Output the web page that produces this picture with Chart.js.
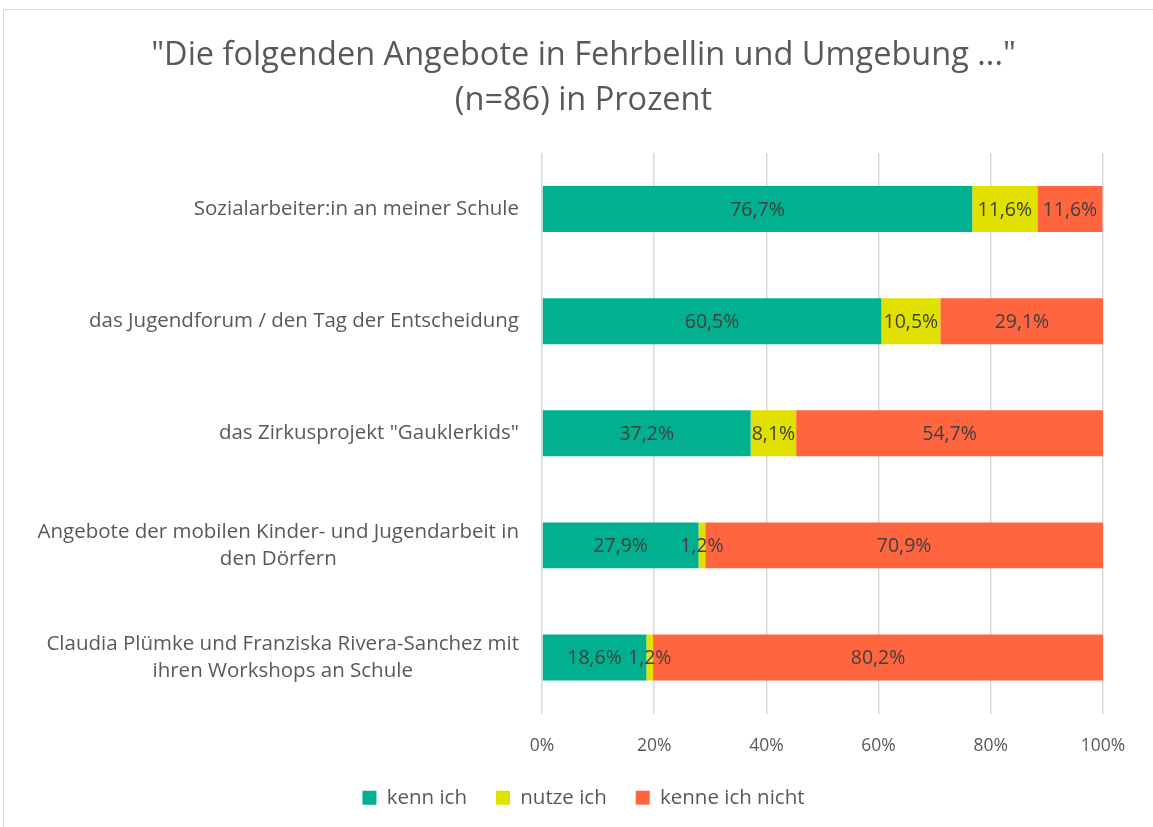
<!DOCTYPE html>
<html>
<head>
<meta charset="utf-8">
<script src="https://cdn.jsdelivr.net/npm/chart.js@4.4.0/dist/chart.umd.min.js"></script>
<style>
  html, body { margin: 0; padding: 0; background: #fff; }
  #wrap { width: 1153px; height: 827px; position: relative; }
</style>
</head>
<body>
<div id="wrap"><canvas id="c"></canvas></div>
<script>
const categories = [
  ['Sozialarbeiter:in an meiner Schule'],
  ['das Jugendforum / den Tag der Entscheidung'],
  ['das Zirkusprojekt "Gauklerkids"'],
  ['Angebote der mobilen Kinder- und Jugendarbeit in', 'den Dörfern'],
  ['Claudia Plümke und Franziska Rivera-Sanchez mit', 'ihren Workshops an Schule']
];
const kennIch = [76.7, 60.5, 37.2, 27.9, 18.6];
const nutzeIch = [11.6, 10.5, 8.1, 1.2, 1.2];
const kenneIchNicht = [11.6, 29.1, 54.7, 70.9, 80.2];
const seriesNames = ['kenn ich', 'nutze ich', 'kenne ich nicht'];
const xTicks = [0, 20, 40, 60, 80, 100];

const FONT = '"Open Sans", Lato, sans-serif';
const TXT = '#595959';

const fmtPct = v => v.toFixed(1).replace('.', ',') + '%';

// frame around the whole chart
const framePlugin = {
  id: 'frame',
  beforeDraw(chart) {
    const ctx = chart.ctx;
    ctx.save();
    ctx.strokeStyle = '#d9d9d9';
    ctx.lineWidth = 1;
    ctx.strokeRect(3.5, 9.5, chart.width + 10, chart.height + 10);
    ctx.restore();
  }
};

// category labels: block right-aligned, lines centred to each other
const catLabels = {
  id: 'catLabels',
  afterDraw(chart) {
    const ctx = chart.ctx, y = chart.scales.y;
    ctx.save();
    ctx.font = '20.5px ' + FONT;
    ctx.fillStyle = TXT;
    ctx.textAlign = 'center';
    ctx.textBaseline = 'middle';
    const right = chart.chartArea.left - 23, lh = 27;
    categories.forEach((lines, i) => {
      const w = Math.max(...lines.map(l => ctx.measureText(l).width));
      const cy = y.getPixelForValue(i);
      lines.forEach((l, j) => {
        ctx.fillText(l, right - w / 2, cy + (j - (lines.length - 1) / 2) * lh);
      });
    });
    ctx.restore();
  }
};

// value labels in the middle of each segment
const valueLabels = {
  id: 'valueLabels',
  afterDatasetsDraw(chart) {
    const ctx = chart.ctx;
    ctx.save();
    ctx.font = '19.5px ' + FONT;
    ctx.fillStyle = '#404040';
    ctx.textAlign = 'center';
    ctx.textBaseline = 'middle';
    chart.data.datasets.forEach((ds, di) => {
      chart.getDatasetMeta(di).data.forEach((el, i) => {
        ctx.fillText(fmtPct(ds.data[i]), (el.x + el.base) / 2, el.y + 1);
      });
    });
    ctx.restore();
  }
};

new Chart(document.getElementById('c'), {
  type: 'bar',
  data: {
    labels: categories,
    datasets: [
      { label: seriesNames[0], data: kennIch, backgroundColor: '#00b08f' },
      { label: seriesNames[1], data: nutzeIch, backgroundColor: '#e1e100' },
      { label: seriesNames[2], data: kenneIchNicht, backgroundColor: '#ff6640' }
    ]
  },
  options: {
    indexAxis: 'y',
    responsive: true,
    maintainAspectRatio: false,
    animation: false,
    layout: { padding: { top: 33, right: 0, bottom: 9, left: 14 } },
    datasets: { bar: { categoryPercentage: 1, barPercentage: 0.41 } },
    plugins: {
      title: {
        display: true,
        text: ['"Die folgenden Angebote in Fehrbellin und Umgebung ..."', '(n=86) in Prozent'],
        color: TXT,
        font: { family: FONT, size: 32.5, weight: 'normal', lineHeight: 1.385 },
        padding: { top: 0, bottom: 30 }
      },
      legend: {
        position: 'bottom',
        labels: {
          color: TXT,
          font: { family: FONT, size: 20.5 },
          boxWidth: 14, boxHeight: 14,
          padding: 29
        }
      },
      tooltip: { enabled: false }
    },
    scales: {
      x: {
        stacked: true,
        min: 0, max: 100,
        afterBuildTicks: s => { s.ticks = xTicks.map(v => ({ value: v })); },
        afterFit: s => { s.height = 45; },
        grid: { color: '#d9d9d9', lineWidth: 1.5, drawTicks: false },
        border: { display: false },
        ticks: { color: TXT, font: { family: FONT, size: 17.5 }, padding: 22, callback: v => v + '%' }
      },
      y: {
        stacked: true,
        afterFit: s => { s.width = 528; },
        grid: { display: false },
        border: { display: false },
        ticks: { display: false }
      },
      yRight: {
        axis: 'y',
        type: 'category',
        position: 'right',
        afterFit: s => { s.width = 50; },
        grid: { display: false },
        border: { display: false },
        ticks: { display: false }
      }
    }
  },
  plugins: [framePlugin, catLabels, valueLabels]
});
</script>
</body>
</html>
